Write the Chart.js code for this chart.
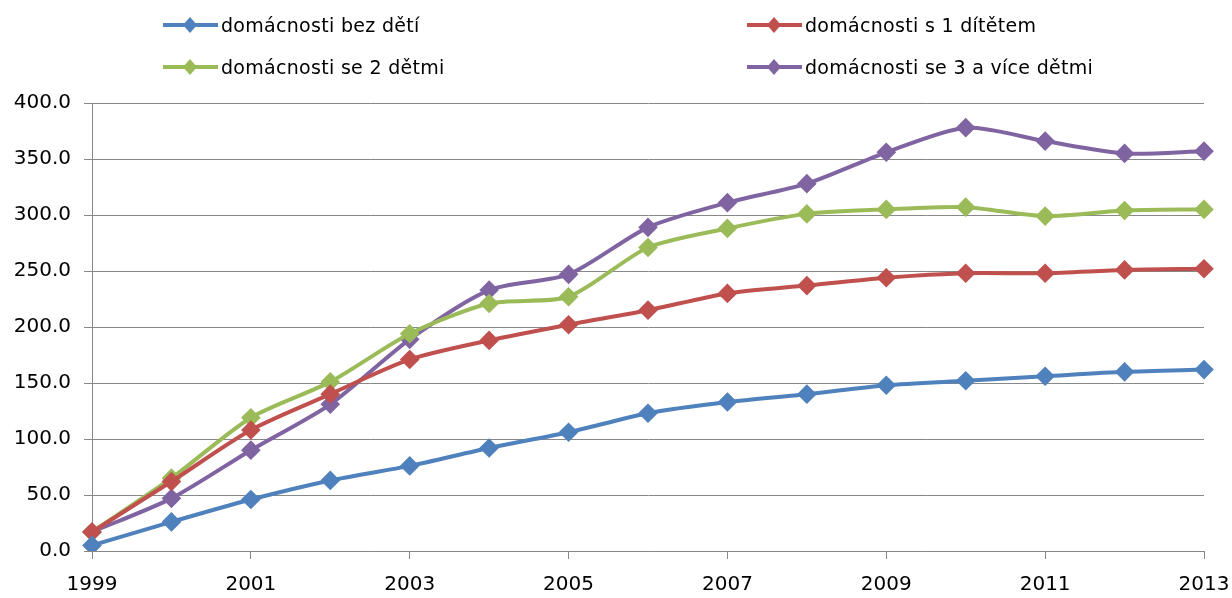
<!DOCTYPE html>
<html>
<head>
<meta charset="utf-8">
<script src="https://cdn.jsdelivr.net/npm/chart.js"></script>
<style>
    html, body { margin: 0; padding: 0; background: #fff; }
    #wrap { position: relative; width: 1232px; height: 598px; }
    #legend { position: absolute; left: 0; top: 0; width: 1232px; height: 95px; font-family: "DejaVu Sans", sans-serif; font-size: 19px; color: #000; }
    .item { position: absolute; display: flex; align-items: center; white-space: nowrap; height: 24px; }
    .item svg { margin-right: 3px; }
    .item span { letter-spacing: 0.3px; }
</style>
</head>
<body>
<div id="wrap">
    <canvas id="chart" width="1232" height="598"></canvas>
    <div id="legend"></div>
</div>
<script>
// Data
const years = ['1999', '2000', '2001', '2002', '2003', '2004', '2005', '2006', '2007', '2008', '2009', '2010', '2011', '2012', '2013'];
const seriesNames = ['domácnosti bez dětí', 'domácnosti s 1 dítětem', 'domácnosti se 2 dětmi', 'domácnosti se 3 a více dětmi'];
const noChildren = [5, 26, 46, 63, 76, 92, 106, 123, 133, 140, 148, 152, 156, 160, 162];
const oneChild = [17, 62, 108, 140, 171, 188, 202, 215, 230, 237, 244, 248, 248, 251, 252];
const twoChildren = [17, 65, 119, 151, 194, 221, 227, 271, 288, 301, 305, 307, 299, 304, 305];
const threeChildren = [17, 47, 90, 131, 189, 233, 247, 289, 311, 328, 356, 378, 366, 355, 357];
const colors = ['#4F81BD', '#C0504D', '#9BBB59', '#8064A2'];

// Legend positions (two columns, two rows): left of symbol, row centre
const legendPos = [[163, 25], [747, 25], [163, 67], [747, 67]];

function buildLegend() {
    const legend = document.getElementById('legend');
    seriesNames.forEach(function(name, i) {
        const item = document.createElement('div');
        item.className = 'item';
        item.style.left = legendPos[i][0] + 'px';
        item.style.top = (legendPos[i][1] - 12) + 'px';
        item.innerHTML = '<svg width="55" height="24"><line x1="0" y1="12" x2="55" y2="12" stroke="' + colors[i] +
            '" stroke-width="4"/><polygon points="27,4 34,12 27,20 20,12" fill="' + colors[i] + '"/></svg>';
        const span = document.createElement('span');
        span.textContent = name;
        item.appendChild(span);
        legend.appendChild(item);
    });
}

function makeDataset(label, data, color) {
    return {
        label: label,
        data: data,
        borderColor: color,
        backgroundColor: color,
        borderWidth: 4,
        pointStyle: 'rectRot',
        pointRadius: 7,
        pointHoverRadius: 7,
        fill: false,
        tension: 0.25
    };
}

function initializeChart() {
    const ctx = document.getElementById('chart');
    new Chart(ctx, {
        type: 'line',
        data: {
            labels: years,
            datasets: [
                makeDataset(seriesNames[0], noChildren, colors[0]),
                makeDataset(seriesNames[1], oneChild, colors[1]),
                makeDataset(seriesNames[2], twoChildren, colors[2]),
                makeDataset(seriesNames[3], threeChildren, colors[3])
            ]
        },
        options: {
            responsive: false,
            animation: false,
            layout: { padding: { top: 103, right: 28, left: 0, bottom: 0 } },
            plugins: {
                legend: { display: false },
                tooltip: { enabled: false }
            },
            scales: {
                x: {
                    offset: false,
                    afterFit: function(axis) {
                        axis.height = 47;
                        axis.paddingRight = 0;
                        axis.paddingLeft = 0;
                    },
                    grid: {
                        drawOnChartArea: false,
                        tickLength: 8,
                        color: function(c) { return c.index % 2 === 0 ? '#888888' : 'rgba(0,0,0,0)'; }
                    },
                    border: { color: '#888888', width: 1 },
                    ticks: {
                        autoSkip: false,
                        maxRotation: 0,
                        padding: 14,
                        color: '#000',
                        font: { family: 'DejaVu Sans', size: 20 },
                        callback: function(value, index) {
                            return index % 2 === 0 ? years[index] : '';
                        }
                    }
                },
                y: {
                    min: 0,
                    max: 400,
                    afterFit: function(axis) { axis.width = 92; },
                    grid: { color: '#888888', tickLength: 8 },
                    border: { color: '#888888', width: 1 },
                    ticks: {
                        stepSize: 50,
                        padding: 13,
                        color: '#000',
                        font: { family: 'DejaVu Sans', size: 20 },
                        callback: function(value) { return value.toFixed(1); }
                    }
                }
            }
        }
    });
}

buildLegend();
initializeChart();
</script>
</body>
</html>
